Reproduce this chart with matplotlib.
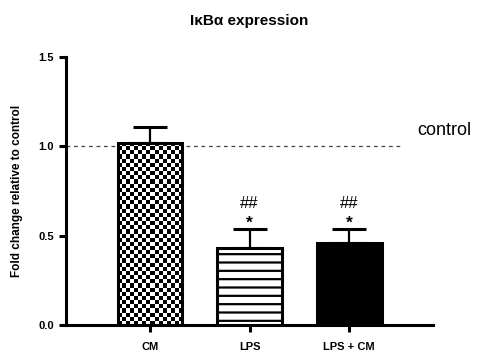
import numpy as np
import matplotlib
matplotlib.use("Agg")
import matplotlib.pyplot as plt

# Data
groups = ["CM", "LPS", "LPS + CM"]
fold_change = [1.02, 0.43, 0.46]
sem = [0.09, 0.11, 0.08]
marks_star = ["", "*", "*"]
marks_hash = ["", "##", "##"]
control_level = 1.0
y_ticks = [0.0, 0.5, 1.0, 1.5]

plt.rcParams["font.family"] = ["Liberation Sans", "DejaVu Sans"]
plt.rcParams["hatch.linewidth"] = 1.6

fig = plt.figure(figsize=(4.88, 3.61), dpi=100)
ax = fig.add_axes([0.135, 0.0997, 0.752, 0.742])

x = np.arange(len(groups))
bars = ax.bar(x, fold_change, width=0.65, color="white", edgecolor="black",
              linewidth=2.2, zorder=3)
bars[1].set_hatch("--")
bars[2].set_facecolor("black")

ax.errorbar(x, fold_change, yerr=[np.zeros(len(sem)), sem], fmt="none",
            ecolor="black", elinewidth=1.6, capsize=12, capthick=2.2, zorder=2)

ax.set_xlim(-0.845, 2.84)
ax.set_ylim(0, 1.5)

# checkerboard fill for the first bar
fig.canvas.draw()
b0 = bars[0]
bb = b0.get_window_extent()
nx = max(int(round(bb.width / 4.1)), 1)
ny = max(int(round(bb.height / 4.1)), 1)
checker = (np.add.outer(np.arange(ny), np.arange(nx)) % 2).astype(float)
x0, w = b0.get_x(), b0.get_width()
img = ax.imshow(checker, cmap="gray", interpolation="nearest", aspect="auto",
                extent=[x0, x0 + w, 0, b0.get_height()], origin="lower", zorder=2.5)
img.set_clip_path(b0)
b0.set_facecolor("none")
ax.set_xlim(-0.845, 2.84)
ax.set_ylim(0, 1.5)

# control reference line
ax.plot([-0.845, 2.52], [control_level, control_level], ls=(0, (3, 3)),
        color="#444444", lw=0.9, zorder=1, clip_on=False)
ax.text(2.68, control_level + 0.09, "control", fontsize=13, ha="left",
        va="center")

# significance marks
for xi, v, e, s, h in zip(x, fold_change, sem, marks_star, marks_hash):
    if s:
        ax.text(xi, v + e + 0.002, s, ha="center", va="baseline", fontsize=12.5,
                fontweight="bold")
    if h:
        ax.text(xi, v + e + 0.115, h, ha="center", va="baseline", fontsize=12)

for side in ("top", "right"):
    ax.spines[side].set_visible(False)
for side in ("left", "bottom"):
    ax.spines[side].set_linewidth(2.2)

ax.set_yticks(y_ticks)
ax.set_yticklabels([f"{t:.1f}" for t in y_ticks], fontweight="bold", fontsize=8)
ax.set_xticks(x)
ax.set_xticklabels(groups, fontweight="bold", fontsize=8)
ax.tick_params(axis="both", width=2.2, length=5, direction="out")
ax.tick_params(axis="x", pad=7)

ax.set_ylabel("Fold change relative to control", fontweight="bold",
              fontsize=8.5, labelpad=11)
ax.set_title("I\u03baB\u03b1 expression", fontweight="bold", fontsize=11,
             pad=23)

fig.savefig("out.png", dpi=100)
